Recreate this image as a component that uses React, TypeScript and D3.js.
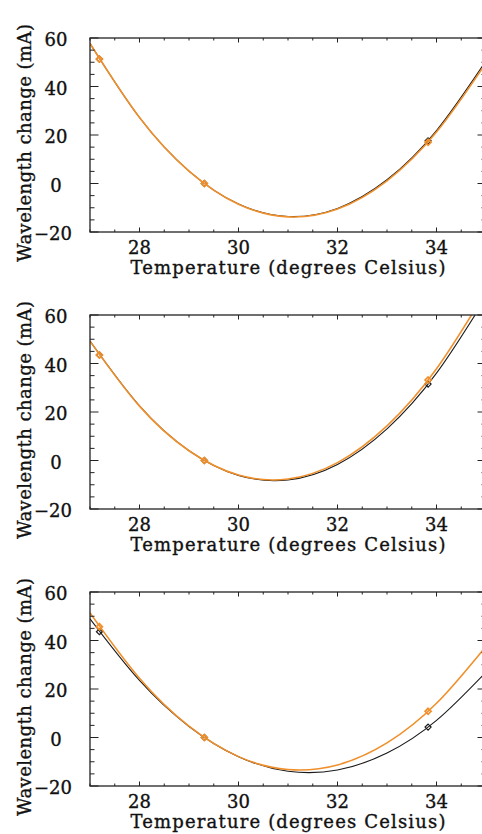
import React from "react";
import * as d3 from "d3";

const TEMPS = [27, 28, 29, 30, 31, 32, 33, 34, 35];
const P1_ORANGE = [57.75, 27.23, 5.14, -8.52, -13.75, -10.54, 1.11, 21.19, 49.7];
const P1_BLACK = [57.77, 27.21, 5.13, -8.48, -13.62, -10.28, 1.53, 21.82, 50.58];
const P2_ORANGE = [49.24, 22.42, 4.01, -6.02, -7.65, -0.89, 14.27, 37.82, 69.76];
const P2_BLACK = [49.21, 22.48, 4.04, -6.13, -8.02, -1.62, 13.05, 36.0, 67.24];
const P3_ORANGE = [51.38, 24.41, 4.66, -7.88, -13.21, -11.32, -2.22, 14.1, 37.63];
const P3_BLACK = [48.94, 23.51, 4.56, -7.91, -13.9, -13.4, -6.42, 7.04, 26.98];

const MARKER_T = [27.19, 29.31, 33.83];
const P1_ORANGE_MK = [51.3, 0, 17.0];
const P1_BLACK_MK = [51.3, 0, 17.6];
const P2_ORANGE_MK = [43.5, 0, 33.2];
const P2_BLACK_MK = [43.5, 0, 31.5];
const P3_ORANGE_MK = [45.7, 0, 10.8];
const P3_BLACK_MK = [43.6, 0, 4.3];

const X_TICKS = [28, 30, 32, 34];
const Y_TICKS = [-20, 0, 20, 40, 60];
const X_DOMAIN = [27, 35];
const Y_DOMAIN = [-20, 60];
const X_LABEL = "Temperature (degrees Celsius)";
const Y_LABEL = "Wavelength change (mA)";

const PANELS = [
  { orange: P1_ORANGE, black: P1_BLACK, orangeMk: P1_ORANGE_MK, blackMk: P1_BLACK_MK },
  { orange: P2_ORANGE, black: P2_BLACK, orangeMk: P2_ORANGE_MK, blackMk: P2_BLACK_MK },
  { orange: P3_ORANGE, black: P3_BLACK, orangeMk: P3_ORANGE_MK, blackMk: P3_BLACK_MK },
];

const W = 482;
const H = 834;
const LEFT = 90;
const RIGHT = 486;
const TOP0 = 38;
const PANEL_STEP = 277;
const PH = 194;
const ORANGE = "#f0902c";
const BLACK = "#1a1a1a";
const AXIS = "#222";
const FONT = "DejaVu Serif";
const TEXT_COLOR = "#111";

function diamond(cx: number, cy: number, r: number) {
  return `M${cx},${cy - r}L${cx + r},${cy}L${cx},${cy + r}L${cx - r},${cy}Z`;
}

const textStyle = {
  fontFamily: FONT,
  fontSize: 18,
  fill: TEXT_COLOR,
  stroke: TEXT_COLOR,
  strokeWidth: 0.35,
};

function Panel({ idx, p }: { idx: number; p: (typeof PANELS)[number] }) {
  const top = TOP0 + idx * PANEL_STEP;
  const bottom = top + PH;
  const x = d3.scaleLinear().domain(X_DOMAIN).range([LEFT, RIGHT]);
  const y = d3.scaleLinear().domain(Y_DOMAIN).range([bottom, top]);
  const line = d3
    .line<number>()
    .x((_, i) => x(TEMPS[i]))
    .y((d) => y(d))
    .curve(d3.curveNatural);
  const xMinor = d3.range(27, 35.001, 0.5);
  const yMinor = d3.range(-20, 60.001, 5);
  const clipId = `clip${idx}`;
  return (
    <g>
      <defs>
        <clipPath id={clipId}>
          <rect x={LEFT} y={top} width={RIGHT - LEFT} height={PH} />
        </clipPath>
      </defs>
      <g clipPath={`url(#${clipId})`}>
        <path d={line(p.black) || ""} fill="none" stroke={BLACK} strokeWidth={1.1} />
        {MARKER_T.map((t, i) => (
          <path key={"b" + i} d={diamond(x(t), y(p.blackMk[i]), 3)} fill="none" stroke={BLACK} strokeWidth={1.2} />
        ))}
        <path d={line(p.orange) || ""} fill="none" stroke={ORANGE} strokeWidth={1.6} />
        {MARKER_T.map((t, i) => (
          <path key={"o" + i} d={diamond(x(t), y(p.orangeMk[i]), 3)} fill="none" stroke={ORANGE} strokeWidth={1.7} />
        ))}
      </g>
      <rect x={LEFT} y={top} width={RIGHT - LEFT} height={PH} fill="none" stroke={AXIS} strokeWidth={1.3} />
      {xMinor.map((t) => {
        const major = X_TICKS.includes(t);
        const len = major ? 4.5 : 2.5;
        return (
          <g key={"xt" + t}>
            <line x1={x(t)} x2={x(t)} y1={bottom} y2={bottom - len} stroke={AXIS} strokeWidth={1} />
            <line x1={x(t)} x2={x(t)} y1={top} y2={top + len} stroke={AXIS} strokeWidth={1} />
          </g>
        );
      })}
      {yMinor.map((v) => {
        const major = Y_TICKS.includes(v);
        const len = major ? 8.5 : 4.5;
        return (
          <g key={"yt" + v}>
            <line x1={LEFT} x2={LEFT + len} y1={y(v)} y2={y(v)} stroke={AXIS} strokeWidth={1} />
            <line x1={RIGHT} x2={RIGHT - len} y1={y(v)} y2={y(v)} stroke={AXIS} strokeWidth={1} />
          </g>
        );
      })}
      {X_TICKS.map((t) => (
        <text key={"xl" + t} x={x(t)} y={bottom + 22} textAnchor="middle" style={textStyle}>
          {t}
        </text>
      ))}
      {Y_TICKS.map((v) => (
        <text key={"yl" + v} x={v < 0 ? 53 : 56} y={y(v) + 8} textAnchor="middle" style={textStyle}>
          {v < 0 ? "\u2212" + Math.abs(v) : v}
        </text>
      ))}
      <text
        x={(LEFT + RIGHT) / 2}
        y={bottom + 42}
        textAnchor="middle"
        style={textStyle}
        textLength={315}
        lengthAdjust="spacing"
      >
        {X_LABEL}
      </text>
      <text
        transform={`translate(31,${(top + bottom) / 2 + 8}) rotate(-90)`}
        textAnchor="middle"
        style={textStyle}
        textLength={238}
        lengthAdjust="spacing"
      >
        {Y_LABEL}
      </text>
    </g>
  );
}

export default function App() {
  return (
    <svg
      width={W}
      height={H}
      viewBox={`0 0 ${W} ${H}`}
      style={{ position: "absolute", left: 0, top: 0, background: "#fff" }}
    >
      <rect x={0} y={0} width={W} height={H} fill="#fff" />
      {PANELS.map((p, i) => (
        <Panel key={i} idx={i} p={p} />
      ))}
    </svg>
  );
}
